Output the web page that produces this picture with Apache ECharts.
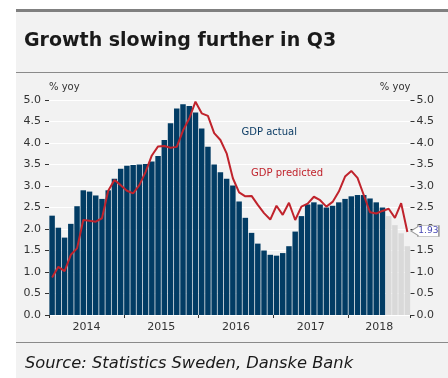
<!DOCTYPE html>
<html>
<head>
<meta charset="utf-8">
<script src="https://cdn.jsdelivr.net/npm/echarts@6/dist/echarts.min.js"></script>
<style>html,body{margin:0;padding:0;background:#fff}#c{width:448px;height:378px}</style>
</head>
<body>
<div id="c"></div>
<script>
// ---- data ----
var years = ['2014', '2015', '2016', '2017', '2018'];
var monthsInYear = [12, 12, 12, 12, 10];
var yTicks = ['0.0','0.5','1.0','1.5','2.0','2.5','3.0','3.5','4.0','4.5','5.0'];
var gdpActual = [
  2.31, 2.03, 1.80, 2.12, 2.53, 2.90, 2.87, 2.78, 2.70, 2.90, 3.17, 3.40,
  3.47, 3.49, 3.50, 3.51, 3.57, 3.70, 4.07, 4.46, 4.80, 4.90, 4.86, 4.71,
  4.34, 3.91, 3.50, 3.32, 3.17, 3.01, 2.64, 2.26, 1.91, 1.66, 1.50, 1.40,
  1.38, 1.44, 1.60, 1.94, 2.30, 2.57, 2.62, 2.57, 2.50, 2.54, 2.62, 2.70,
  2.76, 2.79, 2.79, 2.71, 2.62, 2.50
];
var gdpForecast = [2.30, 2.09, 1.90, 1.60];
var gdpPredicted = [
  0.87, 1.12, 1.02, 1.40, 1.55, 2.21, 2.19, 2.17, 2.25, 2.89, 3.14, 3.02,
  2.89, 2.83, 3.02, 3.33, 3.71, 3.92, 3.93, 3.89, 3.91, 4.29, 4.57, 4.96,
  4.69, 4.63, 4.23, 4.07, 3.76, 3.18, 2.85, 2.76, 2.77, 2.56, 2.37, 2.22,
  2.54, 2.33, 2.61, 2.21, 2.52, 2.59, 2.75, 2.67, 2.52, 2.63, 2.87, 3.22,
  3.35, 3.19, 2.79, 2.39, 2.36, 2.42, 2.47, 2.26, 2.60, 1.93
];

// ---- build categories ----
var categories = [];
var yearLabelAt = {};
var tickAt = {};
years.forEach(function (y, k) {
  var start = categories.length;
  tickAt[start] = true;
  for (var m = 1; m <= monthsInYear[k]; m++) categories.push(y + '-' + (m < 10 ? '0' + m : m));
  yearLabelAt[start + Math.floor(monthsInYear[k] / 2 - 0.5)] = y;
});
var actualData = categories.map(function (_, i) { return i < gdpActual.length ? gdpActual[i] : '-'; });
var forecastData = categories.map(function (_, i) {
  var j = i - gdpActual.length; return j >= 0 && j < gdpForecast.length ? gdpForecast[j] : '-';
});
var lastIdx = gdpPredicted.length - 1;
var lastVal = gdpPredicted[lastIdx];

var FONT = 'DejaVu Sans';
var chart = echarts.init(document.getElementById('c'), null, { renderer: 'canvas' });
var yAxisCommon = {
  type: 'value', min: 0, max: 5, interval: 0.5,
  axisLine: { show: false },
  axisTick: { show: true, length: 4, lineStyle: { color: '#333', width: 1 } },
  splitLine: { show: true, lineStyle: { color: '#ffffff', width: 1 } },
  nameLocation: 'end', nameGap: 8,
  axisLabel: { color: '#333', fontFamily: FONT, fontSize: 11, formatter: function (v) { return yTicks[Math.round(v * 2)]; } }
};
chart.setOption({
  backgroundColor: '#f2f2f2',
  animation: false,
  grid: { left: 49, right: 37.5, top: 100, bottom: 63, containLabel: false },
  xAxis: {
    type: 'category', data: categories, boundaryGap: true,
    axisLine: { show: false },
    axisTick: { show: true, length: 3, lineStyle: { color: '#333' }, interval: function (i) { return !!tickAt[i]; } },
    axisLabel: {
      color: '#333', fontFamily: FONT, fontSize: 11, margin: 7, padding: [0, 0, 0, 6.2],
      interval: function (i) { return !!yearLabelAt[i]; },
      formatter: function (v, i) { return yearLabelAt[i] || ''; }
    }
  },
  yAxis: [
    Object.assign({}, yAxisCommon, { position: 'left', name: '% yoy', nameTextStyle: { color: '#333', fontFamily: FONT, fontSize: 10, align: 'left' }, axisLabel: Object.assign({}, yAxisCommon.axisLabel, { margin: 8 }) }),
    Object.assign({}, yAxisCommon, { position: 'right', name: '% yoy', splitLine: { show: false }, nameTextStyle: { color: '#333', fontFamily: FONT, fontSize: 10, align: 'right' }, axisLabel: Object.assign({}, yAxisCommon.axisLabel, { margin: 6 }) })
  ],
  series: [
    { type: 'bar', name: 'GDP actual', data: actualData, barCategoryGap: '12%', barGap: '-100%', itemStyle: { color: '#023c64' }, z: 2 },
    { type: 'bar', name: 'GDP forecast', data: forecastData, barCategoryGap: '12%', barGap: '-100%', itemStyle: { color: '#d9d9d9' }, z: 2 },
    {
      type: 'line', name: 'GDP predicted', data: gdpPredicted, showSymbol: false, symbol: 'none',
      lineStyle: { color: '#c0232c', width: 2 }, z: 3,
      markPoint: {
        silent: true,
        symbol: 'path://M0,5 L7,1 L7,0 L28,0 L28,10 L7,10 L7,9 Z',
        symbolSize: [28, 11], symbolOffset: [17.5, -1],
        itemStyle: { color: '#ffffff', borderColor: '#9a9a9a', borderWidth: 1 },
        label: { show: true, position: 'inside', offset: [3.5, 0], color: '#4646b4', fontFamily: FONT, fontSize: 9, formatter: function () { return lastVal.toFixed(2); } },
        data: [{ coord: [lastIdx, lastVal] }]
      }
    }
  ],
  graphic: [
    { type: 'rect', left: 0, top: 0, shape: { x: 0, y: 0, width: 16, height: 378 }, style: { fill: '#ffffff' }, z: -10 },
    { type: 'rect', left: 0, top: 0, shape: { x: 0, y: 0, width: 448, height: 9 }, style: { fill: '#ffffff' }, z: -10 },
    { type: 'rect', left: 16, top: 9, shape: { x: 0, y: 0, width: 432, height: 3 }, style: { fill: '#808080' }, z: -9 },
    { type: 'rect', left: 16, top: 72, shape: { x: 0, y: 0, width: 432, height: 1 }, style: { fill: '#8a8a8a' }, z: -9 },
    { type: 'rect', left: 16, top: 342, shape: { x: 0, y: 0, width: 432, height: 1 }, style: { fill: '#8a8a8a' }, z: -9 },
    { type: 'text', x: 24, y: 41.5, style: { text: 'Growth slowing further in Q3', fill: '#1a1a1a', font: 'bold 19px "DejaVu Sans"', textVerticalAlign: 'middle' } },
    { type: 'text', x: 25, y: 363.5, style: { text: 'Source: Statistics Sweden, Danske Bank', fill: '#1a1a1a', font: 'italic 16.3px "DejaVu Sans"', textVerticalAlign: 'middle' } },
    { type: 'text', x: 241.5, y: 132, style: { text: 'GDP actual', fill: '#0d3d66', font: '10px "DejaVu Sans"', textVerticalAlign: 'middle' }, z: 10 },
    { type: 'text', x: 251, y: 173.5, style: { text: 'GDP predicted', fill: '#c0232c', font: '10px "DejaVu Sans"', textVerticalAlign: 'middle' }, z: 10 }
  ]
});
</script>
</body>
</html>
